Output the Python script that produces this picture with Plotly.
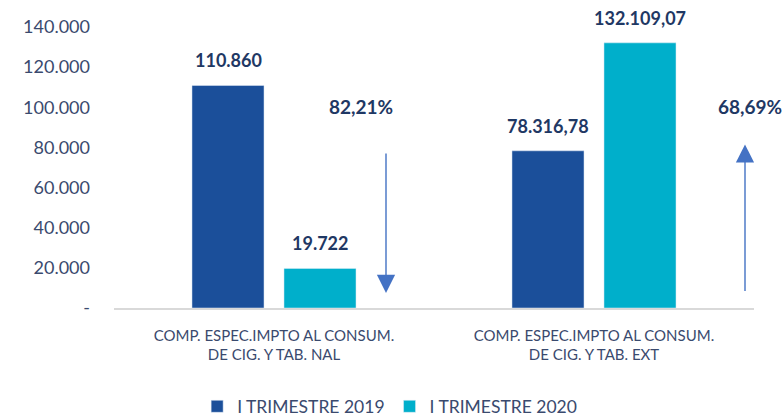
import plotly.graph_objects as go

categories = ["COMP. ESPEC.IMPTO AL CONSUM.<br>DE CIG. Y TAB. NAL",
              "COMP. ESPEC.IMPTO AL CONSUM.<br>DE CIG. Y TAB. EXT"]
series_names = ["I TRIMESTRE 2019", "I TRIMESTRE 2020"]
values_2019 = [110860, 78316.78]
values_2020 = [19722, 132109.07]
labels_2019 = ["110.860", "78.316,78"]
labels_2020 = ["19.722", "132.109,07"]
pct_labels = ["82,21%", "68,69%"]
tick_vals = [0, 20000, 40000, 60000, 80000, 100000, 120000, 140000]
tick_text = ["-", "20.000", "40.000", "60.000", "80.000", "100.000", "120.000", "140.000"]

C1 = "#1B4F9A"
C2 = "#00AFCB"
TXT = "#3A4A6E"
LBL = "#1F3864"
FONT = "Lato"

fig = go.Figure()
fig.add_trace(go.Bar(x=categories, y=values_2019, name=series_names[0], marker_color=C1))
fig.add_trace(go.Bar(x=categories, y=values_2020, name=series_names[1], marker_color=C2))

bold = dict(size=18, color=LBL, family=FONT, weight="bold")
ann = []
for i, c in enumerate(categories):
    ann.append(dict(x=c, y=values_2019[i], text=labels_2019[i], xshift=-46, yshift=12,
                    yanchor="bottom", showarrow=False, font=bold))
    ann.append(dict(x=c, y=values_2020[i], text=labels_2020[i], xshift=46, yshift=12,
                    yanchor="bottom", showarrow=False, font=bold))

# percentage change labels and arrows
ann.append(dict(x=categories[0], y=100600, text=pct_labels[0], xshift=87, showarrow=False,
                font=dict(size=19, color=LBL, family=FONT, weight="bold")))
ann.append(dict(x=categories[1], y=100600, text=pct_labels[1], xshift=156, showarrow=False,
                font=dict(size=19, color=LBL, family=FONT, weight="bold")))
ann.append(dict(x=categories[0], y=7500, xshift=112, ax=0, ay=-141, axref="pixel", ayref="pixel",
                text="", showarrow=True, arrowhead=2, arrowsize=2.6, arrowwidth=1.4,
                arrowcolor="#4472C4"))
ann.append(dict(x=categories[1], y=81500, xshift=151, ax=0, ay=148, axref="pixel", ayref="pixel",
                text="", showarrow=True, arrowhead=2, arrowsize=2.6, arrowwidth=1.4,
                arrowcolor="#4472C4"))

fig.update_layout(
    width=784, height=419,
    margin=dict(l=114, r=30, t=27, b=111, autoexpand=False),
    paper_bgcolor="white", plot_bgcolor="white",
    barmode="group", bargap=0.425, bargroupgap=0.217,
    font=dict(family=FONT, size=18, color=TXT),
    showlegend=True,
    legend=dict(orientation="h", xref="container", yref="container",
                x=0.497, xanchor="center", y=0.03, yanchor="middle",
                font=dict(size=17.5, color=TXT), itemwidth=30, tracegroupgap=0),
    annotations=ann,
)
fig.update_xaxes(range=[-0.5, 1.5], autorange=False, showline=True, linecolor="#D9D9D9",
                 linewidth=1.5, ticks="", tickfont=dict(size=15, color=TXT, family=FONT),
                 showgrid=False, automargin=False, ticklabelstandoff=13)
fig.update_yaxes(range=[0, 140000], autorange=False, tickvals=tick_vals, ticktext=tick_text,
                 showgrid=False, zeroline=False, showline=False,
                 tickfont=dict(size=18, color=TXT), ticks="", ticklabelstandoff=23,
                 automargin=False)

fig.write_html("out.html", config={"displayModeBar": False},
               post_script="document.body.style.margin='0';")
